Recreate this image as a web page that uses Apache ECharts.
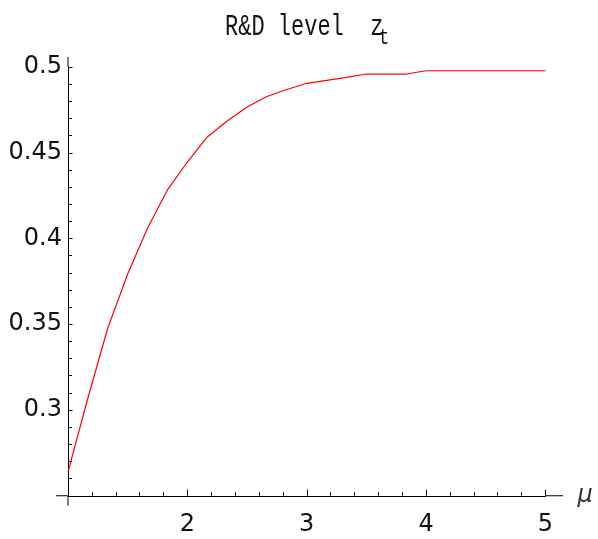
<!DOCTYPE html>
<html>
<head>
<meta charset="utf-8">
<script src="https://cdn.jsdelivr.net/npm/echarts@6/dist/echarts.min.js"></script>
<style>html,body{margin:0;padding:0;background:#fff}#c{width:598px;height:539px}</style>
</head>
<body>
<div id="c"></div>
<script>
// mu values (steps of 1/6)
const muValues = [1, 7/6, 8/6, 1.5, 10/6, 11/6, 2, 13/6, 14/6, 2.5, 16/6, 17/6, 3, 19/6, 20/6, 3.5, 22/6, 23/6, 4, 25/6, 26/6, 4.5, 28/6, 29/6, 5];
// R&D level z_t
const zValues = [0.2638, 0.3070, 0.3478, 0.3793, 0.4061, 0.4283, 0.4446, 0.4592, 0.4685, 0.4767, 0.4828, 0.4869, 0.4905, 0.4922, 0.4940, 0.4959, 0.4959, 0.4959, 0.4978, 0.4978, 0.4978, 0.4978, 0.4978, 0.4978, 0.4978];
const xTicks = [1, 2, 3, 4, 5];
const yTicks = [0.25, 0.3, 0.35, 0.4, 0.45, 0.5];
const titleMain = 'R&D level  z';
const titleSub = 't';

const chart = echarts.init(document.getElementById('c'));
const axisFont = {fontFamily: 'DejaVu Sans', fontSize: 24, color: '#111'};
chart.setOption({
  animation: false,
  backgroundColor: '#fff',
  grid: {left: 68, top: 67, width: 477.5, height: 428.75, containLabel: false},
  xAxis: {
    type: 'value', min: xTicks[0], max: xTicks[xTicks.length - 1], interval: 1,
    name: 'μ', nameLocation: 'end', nameGap: 32,
    nameTextStyle: {fontFamily: 'DejaVu Sans', fontStyle: 'italic', fontSize: 24, color: '#333', padding: [6, 0, 0, 0]},
    axisLine: {show: true, lineStyle: {color: '#000', width: 1}},
    axisTick: {show: true, inside: true, length: 6, lineStyle: {color: '#000'}},
    minorTick: {show: true, splitNumber: 5, length: 3.5, lineStyle: {color: '#000'}},
    splitLine: {show: false},
    axisLabel: Object.assign({margin: 17, formatter: v => (v === 1 ? '' : String(v))}, axisFont)
  },
  yAxis: {
    type: 'value', min: yTicks[0], max: yTicks[yTicks.length - 1], interval: 0.05,
    axisLine: {show: true, lineStyle: {color: '#000', width: 1}},
    axisTick: {show: true, inside: true, length: 4.5, lineStyle: {color: '#000'}},
    minorTick: {show: true, splitNumber: 5, length: 4, lineStyle: {color: '#000'}},
    splitLine: {show: false},
    axisLabel: Object.assign({margin: 6, padding: [3, 0, 0, 0], formatter: v => (Math.abs(v - 0.25) < 1e-9 ? '' : String(+v.toFixed(2)))}, axisFont)
  },
  series: [{
    type: 'line',
    data: muValues.map((m, i) => [m, zValues[i]]),
    showSymbol: false,
    lineStyle: {color: '#ff0000', width: 1.2},
    itemStyle: {color: '#ff0000'}
  }]
});

// Mathematica-style axis overhangs + tall Courier-like title
const o = chart.convertToPixel({gridIndex: 0}, [xTicks[0], yTicks[0]]);
const e = chart.convertToPixel({gridIndex: 0}, [xTicks[xTicks.length - 1], yTicks[yTicks.length - 1]]);
const st = {stroke: '#000', lineWidth: 1};
chart.setOption({
  graphic: [
    {type: 'text', x: 225, y: 27, scaleY: 1.3, silent: true,
     style: {text: titleMain, x: 0, y: 0, verticalAlign: 'middle', align: 'left', font: 'normal 22px "Liberation Mono"', fill: '#111'}},
    {type: 'text', x: 379, y: 38.5, scaleY: 1.3, silent: true,
     style: {text: titleSub, x: 0, y: 0, verticalAlign: 'middle', align: 'left', font: 'normal 17px "Liberation Mono"', fill: '#111'}},
    {type: 'line', shape: {x1: o[0] - 12, y1: o[1], x2: o[0], y2: o[1]}, style: st, silent: true},
    {type: 'line', shape: {x1: e[0], y1: o[1], x2: e[0] + 17.5, y2: o[1]}, style: st, silent: true},
    {type: 'line', shape: {x1: o[0], y1: o[1], x2: o[0], y2: o[1] + 10}, style: st, silent: true},
    {type: 'line', shape: {x1: o[0], y1: e[1] - 10, x2: o[0], y2: e[1]}, style: st, silent: true}
  ]
});
</script>
</body>
</html>
